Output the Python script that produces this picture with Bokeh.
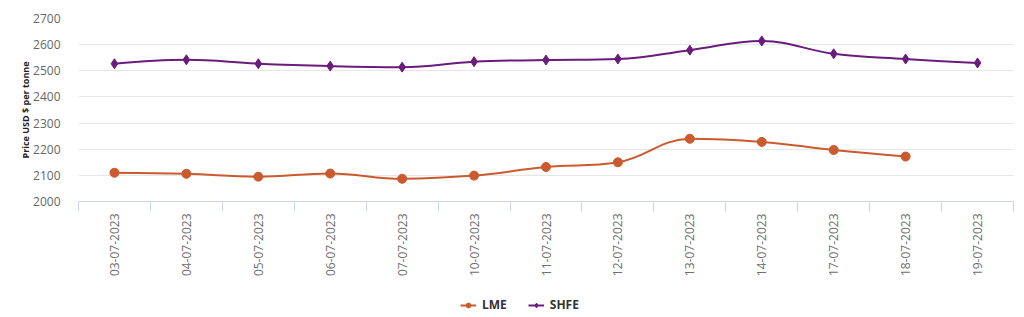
import math
from bokeh.plotting import figure
from bokeh.layouts import column
from bokeh.models import Range1d, FixedTicker, Legend, LegendItem
from bokeh.embed import file_html
from bokeh.resources import INLINE

# Trading days and prices (USD per tonne)
dates = ["03-07-2023", "04-07-2023", "05-07-2023", "06-07-2023", "07-07-2023",
         "10-07-2023", "11-07-2023", "12-07-2023", "13-07-2023", "14-07-2023",
         "17-07-2023", "18-07-2023", "19-07-2023"]
lme = [2110, 2106, 2095, 2107, 2087, 2099, 2132, 2150, 2240, 2228, 2197, 2172]
shfe = [2527, 2542, 2527, 2518, 2514, 2535, 2541, 2545, 2579, 2614, 2565, 2545, 2530]
y_ticks = [2000, 2100, 2200, 2300, 2400, 2500, 2600, 2700]

LME_COLOR = "#cb5a2e"
SHFE_COLOR = "#6b1b7c"
FONT = "Open Sans"


def spline_segments(xs, ys, smoothing=1.5):
    """Cubic Bezier segments of a smoothed line through (xs, ys)."""
    n = len(xs)
    denom = smoothing + 1
    left = [(x, y) for x, y in zip(xs, ys)]
    right = [(x, y) for x, y in zip(xs, ys)]
    for i in range(1, n - 1):
        px, py = xs[i], ys[i]
        lx, ly = xs[i - 1], ys[i - 1]
        nx, ny = xs[i + 1], ys[i + 1]
        lcx = (smoothing * px + lx) / denom
        lcy = (smoothing * py + ly) / denom
        rcx = (smoothing * px + nx) / denom
        rcy = (smoothing * py + ny) / denom
        if rcx != lcx:
            corr = ((rcy - lcy) * (rcx - px)) / (rcx - lcx) + py - rcy
            lcy += corr
            rcy += corr
            if lcy > ly and lcy > py:
                lcy = max(ly, py)
                rcy = 2 * py - lcy
            elif lcy < ly and lcy < py:
                lcy = min(ly, py)
                rcy = 2 * py - lcy
            if rcy > ny and rcy > py:
                rcy = max(ny, py)
                lcy = 2 * py - rcy
            elif rcy < ny and rcy < py:
                rcy = min(ny, py)
                lcy = 2 * py - rcy
        left[i] = (lcx, lcy)
        right[i] = (rcx, rcy)
    seg = dict(x0=[], y0=[], x1=[], y1=[], cx0=[], cy0=[], cx1=[], cy1=[])
    for i in range(1, n):
        seg["x0"].append(xs[i - 1]); seg["y0"].append(ys[i - 1])
        seg["x1"].append(xs[i]); seg["y1"].append(ys[i])
        seg["cx0"].append(right[i - 1][0]); seg["cy0"].append(right[i - 1][1])
        seg["cx1"].append(left[i][0]); seg["cy1"].append(left[i][1])
    return seg


centers = [i + 0.5 for i in range(len(dates))]

p = figure(width=1024, height=290, output_backend="svg", toolbar_location=None,
           x_range=Range1d(0, len(dates)), y_range=Range1d(2000, 2700),
           min_border_left=78, min_border_right=11, min_border_top=18,
           min_border_bottom=89)
p.outline_line_color = None
p.background_fill_color = "white"
p.border_fill_color = "white"

# y axis
p.yaxis.ticker = FixedTicker(ticks=y_ticks)
p.yaxis.axis_line_color = None
p.yaxis.major_tick_line_color = None
p.yaxis.minor_tick_line_color = None
p.yaxis.major_label_standoff = 12
p.yaxis.major_label_text_font = FONT
p.yaxis.major_label_text_font_size = "12px"
p.yaxis.major_label_text_color = "#666666"
p.yaxis.axis_label = "Price USD $ per tonne"
p.yaxis.axis_label_text_font = FONT
p.yaxis.axis_label_text_font_size = "9px"
p.yaxis.axis_label_text_font_style = "bold"
p.yaxis.axis_label_text_color = "#222222"
p.yaxis.axis_label_standoff = -2
p.ygrid.grid_line_color = "#e6e6e6"
p.ygrid.ticker = FixedTicker(ticks=y_ticks)

# x axis: labels centred on each day, tick marks on day boundaries
p.xaxis.ticker = FixedTicker(ticks=centers, minor_ticks=list(range(len(dates) + 1)))
p.xaxis.major_label_overrides = {c: d for c, d in zip(centers, dates)}
p.xaxis.major_label_orientation = math.pi / 2
p.xaxis.major_label_text_font = FONT
p.xaxis.major_label_text_font_size = "12px"
p.xaxis.major_label_text_color = "#6e6e6e"
p.xaxis.major_label_standoff = 2
p.xaxis.major_tick_line_color = None
p.xaxis.minor_tick_line_color = "#ccd6eb"
p.xaxis.minor_tick_out = 10
p.xaxis.minor_tick_in = 0
p.xaxis.axis_line_color = "#ccd6eb"
p.xgrid.grid_line_color = None

# series
lme_seg = spline_segments(centers[:len(lme)], lme)
shfe_seg = spline_segments(centers, shfe)

p.bezier(source=lme_seg, x0="x0", y0="y0", x1="x1", y1="y1",
         cx0="cx0", cy0="cy0", cx1="cx1", cy1="cy1",
         line_color=LME_COLOR, line_width=2)
p.scatter(centers[:len(lme)], lme, marker="circle", size=9,
          fill_color=LME_COLOR, line_color=LME_COLOR)
p.bezier(source=shfe_seg, x0="x0", y0="y0", x1="x1", y1="y1",
         cx0="cx0", cy0="cy0", cx1="cx1", cy1="cy1",
         line_color=SHFE_COLOR, line_width=2)
p.scatter(centers, shfe, marker="diamond", size=10,
          fill_color=SHFE_COLOR, line_color=SHFE_COLOR)

# legend strip underneath the chart; its key renderers carry the series
# but lie outside this strip's ranges, so only the legend keys show
lg = figure(width=1024, height=27, output_backend="svg", toolbar_location=None,
            x_range=Range1d(0, 1), y_range=Range1d(0, 1),
            x_axis_location=None, y_axis_location=None,
            min_border_left=0, min_border_right=0, min_border_top=0,
            min_border_bottom=0)
lg.outline_line_color = None
lg.xgrid.visible = False
lg.ygrid.visible = False

lme_key_line = lg.line(centers[:len(lme)], lme, line_color=LME_COLOR, line_width=2)
lme_key_pt = lg.scatter(centers[:len(lme)], lme, marker="circle", size=9,
                        fill_color=LME_COLOR, line_color=LME_COLOR)
shfe_key_line = lg.line(centers, shfe, line_color=SHFE_COLOR, line_width=2)
shfe_key_pt = lg.scatter(centers, shfe, marker="diamond", size=10,
                         fill_color=SHFE_COLOR, line_color=SHFE_COLOR)

legend = Legend(items=[LegendItem(label="LME", renderers=[lme_key_line, lme_key_pt]),
                       LegendItem(label="SHFE", renderers=[shfe_key_line, shfe_key_pt])],
                orientation="horizontal", location=(382, 4),
                border_line_color=None, background_fill_alpha=0,
                label_text_font=FONT, label_text_font_size="12px",
                label_text_font_style="bold", label_text_color="#333333",
                glyph_width=16, glyph_height=12, label_height=12,
                label_standoff=6, spacing=21, padding=0, margin=0)
lg.add_layout(legend, "center")

open("out.html", "w").write(file_html(column(p, lg, spacing=0), INLINE))
